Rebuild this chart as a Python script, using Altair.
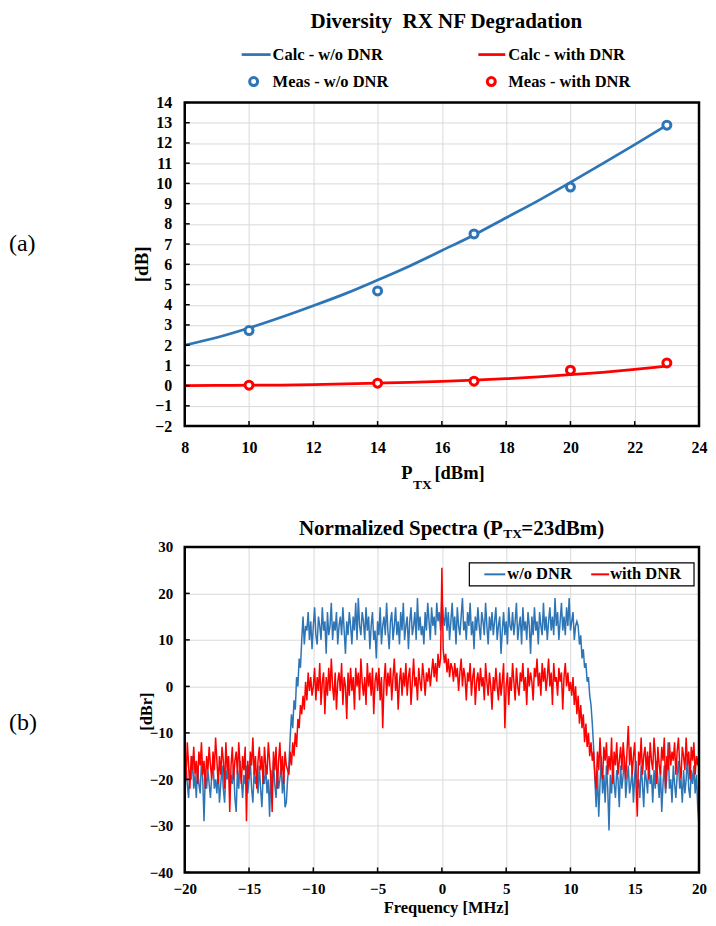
import altair as alt
import pandas as pd
import numpy as np

FONT = "Liberation Serif"
BLUE = "#2E75B6"
RED = "#FF0000"

# ---------------- panel (a) data ----------------
ptx_calc = [8, 9, 10, 11, 12, 13, 14, 15, 16, 17, 18, 19, 20, 21, 22, 23]
calc_wo = [2.0, 2.38, 2.85, 3.38, 3.95, 4.55, 5.22, 5.92, 6.68, 7.45, 8.3, 9.15, 10.05, 10.98, 11.92, 12.88]
calc_with = [0.0, 0.01, 0.02, 0.03, 0.05, 0.08, 0.12, 0.16, 0.21, 0.27, 0.34, 0.43, 0.54, 0.66, 0.8, 0.96]
ptx_meas = [10, 14, 17, 20, 23]
meas_wo = [2.72, 4.68, 7.5, 9.82, 12.88]
meas_with = [0.02, 0.12, 0.22, 0.76, 1.12]
x_ticks_a = [8, 10, 12, 14, 16, 18, 20, 22, 24]
y_ticks_a = [-2, -1, 0, 1, 2, 3, 4, 5, 6, 7, 8, 9, 10, 11, 12, 13, 14]

# ---------------- panel (b) data (0.1 MHz bins, -20 .. 20 MHz) ----------------
blue_floor_left = [
    -23, -17, -21, -24, -18, -20, -15, -22, -19, -24,
    -17, -21, -23, -16, -20, -29, -19, -22, -18, -21,
    -24, -19, -16, -22, -20, -23, -18, -25, -21, -17,
    -22, -25, -18, -20, -15, -23, -19, -21, -17, -24,
    -27, -18, -22, -16, -20, -24, -19, -21, -17, -23,
    -20, -16, -22, -25, -18, -21, -19, -23, -17, -22,
    -26, -19, -21, -17, -23, -20, -28, -18, -22, -16,
    -21, -24, -18, -22, -20, -17, -23, -19, -26, -25,
    -20,
]
blue_rise = [-17, -11, -6, -9, -3, -5, 2, 0, 6, 4, 10, 15, 9, 13]
blue_band = [
    12, 16, 10, 14, 8, 13, 17, 11, 9, 15,
    13, 10, 17, 12, 14, 7, 16, 11, 13, 18,
    10, 14, 12, 16, 9, 13, 15, 11, 17, 12,
    7, 14, 11, 16, 13, 9, 15, 12, 18, 10,
    19, 13, 11, 16, 14, 10, 17, 12, 15, 8,
    13, 16, 10, 12, 6, 14, 11, 17, 9, 13,
    15, 11, 18, 12, 8, 14, 16, 10, 13, 17,
    11, 14, 9, 16, 12, 18, 10, 13, 15, 8,
    14, 17, 11, 13, 16, 10, 19, 12, 15, 11,
    13, 9, 16, 12, 18, 14, 10, 17, 13, 15,
    11, 18, 14, 16, 12, 19, 15, 13, 17, 12,
    16, 10, 14, 18, 12, 15, 9, 17, 13, 11,
    15, 19, 12, 14, 10, 16, 13, 18, 11, 14,
    8, 15, 12, 17, 13, 10, 16, 14, 11, 18,
    13, 9, 15, 12, 16, 11, 14, 17, 10, 13,
    15, 7, 12, 16, 11, 14, 9, 17, 13, 12,
    16, 11, 14, 18, 10, 13, 15, 9, 17, 12,
    14, 10, 16, 13, 7, 15, 11, 17, 12, 14,
    9, 16, 13, 11, 18, 12, 15, 10, 14, 17,
    12, 15, 11, 19, 13, 16, 10, 14, 18, 12,
    15, 11, 17, 13, 19, 12, 14, 16, 10, 13,
    14,
]
blue_fall = [13, 9, 11, 6, 8, 4, 5, 1, 2, -2, -4, -8, -13, -20]
blue_floor_right = [
    -26, -18, -28, -21, -15, -23, -19, -25, -17, -22,
    -31, -19, -23, -16, -21, -24, -18, -20, -26, -17,
    -22, -19, -15, -24, -20, -17, -23, -21, -18, -25,
    -19, -16, -22, -20, -24, -17, -21, -26, -18, -20,
    -23, -15, -21, -19, -25, -18, -22, -16, -20, -24,
    -18, -27, -21, -17, -23, -19, -12, -22, -20, -25,
    -17, -21, -24, -19, -16, -22, -20, -25, -18, -23,
    -20, -15, -22, -24, -18, -21, -17, -23, -19, -26,
    -30,
]

red_floor_left = [
    -14, -20, -12, -17, -22, -15, -18, -13, -19, -16,
    -21, -14, -17, -12, -19, -16, -22, -15, -18, -13,
    -17, -20, -14, -18, -11, -16, -21, -15, -19, -13,
    -16, -22, -12, -18, -15, -27, -17, -13, -20, -16,
    -14, -19, -12, -17, -21, -15, -18, -13, -29, -16,
    -20, -14, -17, -11, -19, -15, -22, -16, -13, -18,
    -15, -21, -13, -17, -19, -12, -16, -20, -27, -14,
    -18, -13, -22, -16, -12, -19, -15, -21, -14, -17,
    -18,
]
red_rise = [-19, -14, -17, -12, -15, -10, -13, -7, -9, -4, -6, -2, -5, 1, -3, 3, -1, 2, -2]
red_band = [
    0, 4, -3, 2, -1, 5, -4, 1, 3, -6,
    2, -2, 4, -1, 6, 0, -3, 3, -5, 1,
    3, -1, 5, -4, 2, 0, -7, 3, -2, 4,
    -1, 2, -5, 4, 0, 3, -3, 6, 1, -2,
    2, -4, 5, 0, 3, -2, 4, -6, 1, 3,
    -1, 4, -3, 2, -9, 1, 5, -2, 3, 0,
    4, -3, 2, 6, -1, 3, -5, 1, 4, -2,
    3, 0, 5, -2, 2, 4, -4, 1, 6, 0,
    2, -3, 4, 1, -1, 5, 2, -2, 3, 1,
    4, 0, 3, 6, 2, 5, 1, 7, 4, 6,
    25.5, 8, 5, 7, 3, 6, 2, 5, 4, 1,
    5, 2, 4, -1, 3, 6, 0, 4, 2, -3,
    3, 1, 5, -2, 2, 4, -4, 1, 3, -1,
    4, 0, 2, -3, 5, 1, -2, 3, 0, -5,
    2, -1, 4, 0, -3, 3, -2, 1, 5, -9,
    0, 3, -4, 2, -1, 5, 1, -3, 4, 0,
    -2, 3, 1, 5, -1, 2, -4, 4, 0, 3,
    1, -3, 4, 2, 6, 0, 3, -2, 5, 1,
    4, -1, 2, 6, 0, 3, -4, 5, 1, 2,
    -2, 4, 1, 3, -5, 2, 5, 0, 3, -1,
    1,
]
red_fall = [-2, 2, -4, 0, -6, -2, -8, -4, -9, -6, -12, -8, -13, -10, -15, -12, -16, -14, -19]
red_floor_right = [
    -22, -14, -18, -11, -17, -20, -13, -16, -12, -19,
    -15, -18, -11, -21, -14, -17, -12, -19, -16, -13,
    -18, -12, -16, -20, -14, -8.5, -17, -13, -19, -15,
    -12, -21, -28, -14, -17, -11, -19, -15, -13, -18,
    -14, -20, -12, -16, -18, -11, -15, -21, -13, -17,
    -19, -13, -16, -11, -22, -15, -18, -12, -17, -14,
    -16, -12, -19, -14, -11, -17, -20, -13, -15, -18,
    -11, -17, -14, -20, -13, -16, -12, -19, -15, -17,
    -14,
]
x_ticks_b = [-20, -15, -10, -5, 0, 5, 10, 15, 20]
y_ticks_b = [-40, -30, -20, -10, 0, 10, 20, 30]

spec_wo = blue_floor_left + blue_rise + blue_band + blue_fall + blue_floor_right
spec_with = red_floor_left + red_rise + red_band + red_fall + red_floor_right
assert len(spec_wo) == 401, len(spec_wo)
assert len(spec_with) == 401, len(spec_with)
freq = np.round(np.linspace(-20, 20, 401), 1)


def txt(s, x, y, size, weight="bold", align="left", baseline="alphabetic", angle=0):
    kw = dict(font=FONT, fontSize=size, fontWeight=weight, align=align,
              baseline=baseline, color="black")
    if angle:
        kw["angle"] = angle
    return alt.Chart(pd.DataFrame({"t": [s]})).mark_text(**kw).encode(
        text="t:N", x=alt.value(x), y=alt.value(y))


def one():
    return alt.Chart(pd.DataFrame({"k": [0]}))


def axis(vals, size, pad):
    return alt.Axis(values=vals, title=None, labelPadding=pad, labelFontSize=size,
                    labelOverlap=False, labelFlush=False, grid=True, ticks=False,
                    domain=False)


# ---------------- panel (a) ----------------
W1, H1 = 515, 324
xa = alt.X("ptx:Q", scale=alt.Scale(domain=[8, 24], nice=False, zero=False),
           axis=axis(x_ticks_a, 16, 13))
ya = alt.Y("db:Q", scale=alt.Scale(domain=[-2, 14], nice=False, zero=False),
           axis=axis(y_ticks_a, 16, 13))

line_wo = alt.Chart(pd.DataFrame({"ptx": ptx_calc, "db": calc_wo})).mark_line(
    color=BLUE, strokeWidth=2.75, interpolate="monotone").encode(x=xa, y=ya)
line_with = alt.Chart(pd.DataFrame({"ptx": ptx_calc, "db": calc_with})).mark_line(
    color=RED, strokeWidth=2.75, interpolate="monotone").encode(x=xa, y=ya)
pts_wo = alt.Chart(pd.DataFrame({"ptx": ptx_meas, "db": meas_wo})).mark_point(
    shape="circle", size=64, strokeWidth=3, fill="white", fillOpacity=1, stroke=BLUE,
    opacity=1).encode(x=xa, y=ya)
pts_with = alt.Chart(pd.DataFrame({"ptx": ptx_meas, "db": meas_with})).mark_point(
    shape="circle", size=64, strokeWidth=3, fill="white", fillOpacity=1, stroke=RED,
    opacity=1).encode(x=xa, y=ya)
frame_a = one().mark_rect(fillOpacity=0, stroke="black", strokeWidth=2.5).encode(
    x=alt.value(0), x2=alt.value(W1), y=alt.value(0), y2=alt.value(H1))
xt_a = alt.Chart(pd.DataFrame({"ptx": x_ticks_a})).mark_rule(color="black", strokeWidth=1.5).encode(
    x=xa, y=alt.value(H1), y2=alt.value(H1 - 5))
yt_a = alt.Chart(pd.DataFrame({"db": y_ticks_a})).mark_rule(color="black", strokeWidth=1.5).encode(
    y=ya, x=alt.value(0), x2=alt.value(5))

leg_a = [
    one().mark_rule(color=BLUE, strokeWidth=2.75).encode(x=alt.value(57), x2=alt.value(86), y=alt.value(-48)),
    one().mark_rule(color=RED, strokeWidth=2.75).encode(x=alt.value(294), x2=alt.value(321), y=alt.value(-48)),
    one().mark_point(shape="circle", size=64, strokeWidth=3, fill="white", fillOpacity=1,
                     stroke=BLUE, opacity=1).encode(x=alt.value(69), y=alt.value(-21)),
    one().mark_point(shape="circle", size=64, strokeWidth=3, fill="white", fillOpacity=1,
                     stroke=RED, opacity=1).encode(x=alt.value(307), y=alt.value(-21)),
    txt("Calc - w/o DNR", 88, -48, 16.5, baseline="middle"),
    txt("Calc - with DNR", 324, -48, 16.5, baseline="middle"),
    txt("Meas - w/o DNR", 88, -21, 16.5, baseline="middle"),
    txt("Meas - with DNR", 324, -21, 16.5, baseline="middle"),
]
texts_a = [
    txt("Diversity\u00a0 RX NF Degradation", 262, -75, 21, align="center"),
    txt("[dB]", -43, 162, 19, align="center", baseline="middle", angle=270),
    txt("P", 228, 377, 18.5, align="right"),
    txt("TX", 228.5, 387, 13.5),
    txt("[dBm]", 250, 377, 18.5),
    txt("(a)", -176, 149, 24, weight="normal"),
]

top = alt.layer(line_wo, line_with, pts_wo, pts_with, frame_a, xt_a, yt_a,
                *leg_a, *texts_a).properties(width=W1, height=H1)

# ---------------- panel (b) ----------------
W2, H2 = 515, 326
xb = alt.X("f:Q", scale=alt.Scale(domain=[-20, 20], nice=False, zero=False),
           axis=axis(x_ticks_b, 15, 9))
yb = alt.Y("dbr:Q", scale=alt.Scale(domain=[-40, 30], nice=False, zero=False),
           axis=axis(y_ticks_b, 15, 12))

spec_b = alt.Chart(pd.DataFrame({"f": freq, "dbr": spec_wo})).mark_line(
    color=BLUE, strokeWidth=1.5).encode(x=xb, y=yb)
spec_r = alt.Chart(pd.DataFrame({"f": freq, "dbr": spec_with})).mark_line(
    color=RED, strokeWidth=1.5).encode(x=xb, y=yb)
frame_b = one().mark_rect(fillOpacity=0, stroke="black", strokeWidth=2.5).encode(
    x=alt.value(0), x2=alt.value(W2), y=alt.value(0), y2=alt.value(H2))
xt_b = alt.Chart(pd.DataFrame({"f": x_ticks_b})).mark_rule(color="black", strokeWidth=1.5).encode(
    x=xb, y=alt.value(H2), y2=alt.value(H2 - 5))
yt_b = alt.Chart(pd.DataFrame({"dbr": y_ticks_b})).mark_rule(color="black", strokeWidth=1.5).encode(
    y=yb, x=alt.value(0), x2=alt.value(5))

leg_b = [
    one().mark_rect(fill="white", stroke="black", strokeWidth=1.2).encode(
        x=alt.value(285), x2=alt.value(510), y=alt.value(16), y2=alt.value(39)),
    one().mark_rule(color=BLUE, strokeWidth=2).encode(x=alt.value(300), x2=alt.value(321), y=alt.value(27.5)),
    one().mark_rule(color=RED, strokeWidth=2).encode(x=alt.value(407), x2=alt.value(425), y=alt.value(27.5)),
    txt("w/o DNR", 323, 27.5, 16.5, baseline="middle"),
    txt("with DNR", 426, 27.5, 16.5, baseline="middle"),
]
texts_b = [
    txt("Normalized Spectra (P", 318.5, -12.3, 21, align="right"),
    txt("TX", 319, -8.5, 13.5),
    txt("=23dBm)", 337, -12.3, 21),
    txt("[dBr]", -37.5, 165, 16.5, align="center", baseline="middle", angle=270),
    txt("Frequency [MHz]", 262, 367, 16.5, align="center"),
    txt("(b)", -176, 183, 24, weight="normal"),
]

bottom = alt.layer(spec_b, spec_r, frame_b, xt_b, yt_b, *leg_b, *texts_b).properties(
    width=W2, height=H2)

chart = alt.concat(top, bottom, columns=1, spacing=25).properties(
    padding={"left": 0, "top": 1, "right": 0, "bottom": 0}
).configure_view(stroke="transparent").configure_axis(
    labelFont=FONT, labelFontWeight="bold", labelColor="black",
    gridColor="#d9d9d9", gridWidth=1,
)

chart.save("out.html", embed_options={"renderer": "svg", "actions": False})
